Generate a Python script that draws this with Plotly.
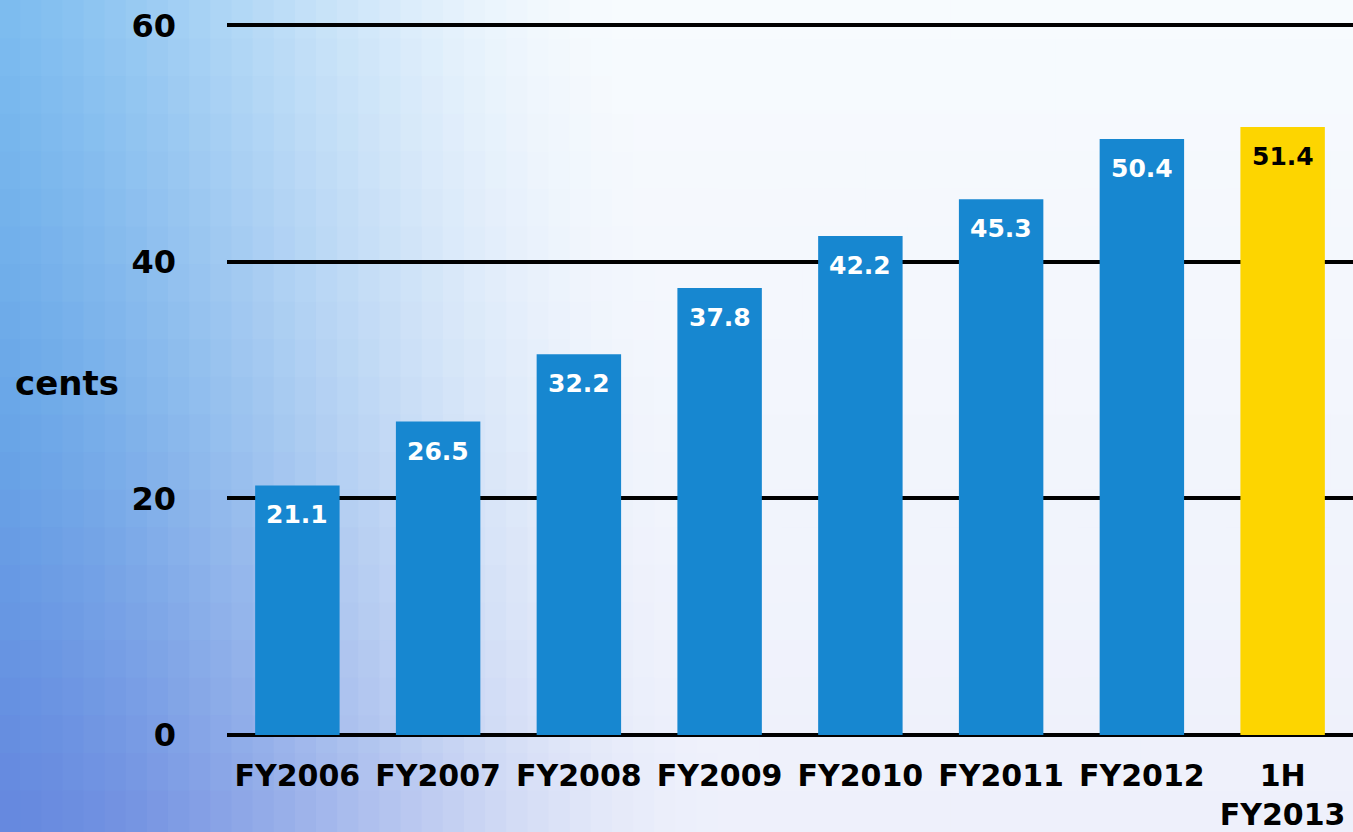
import plotly.graph_objects as go

# Dividend per share, cents
categories = ["FY2006", "FY2007", "FY2008", "FY2009", "FY2010", "FY2011", "FY2012", "1H<br>FY2013"]
values = [21.1, 26.5, 32.2, 37.8, 42.2, 45.3, 50.4, 51.4]
bar_colors = ["#1787d0"] * 7 + ["#fdd500"]
label_colors = ["white"] * 7 + ["black"]
y_ticks = [0, 20, 40, 60]

W, H = 1353, 832
M_L, M_R, M_T, M_B = 227, 0, 23, 93
PW, PH = W - M_L - M_R, H - M_T - M_B
FONT = "DejaVu Sans"


def mix(a, b, t):
    return tuple(a[k] + (b[k] - a[k]) * t for k in range(3))


def smooth(t):
    t = max(0.0, min(1.0, t))
    return t * t * (3 - 2 * t)


def to_paper_x(fx):
    return (fx * W - M_L) / PW


def to_paper_y(fy):
    return (fy * H - M_B) / PH


# Soft blue-to-white backdrop over the whole figure, built from small tiles
shapes = []
cols, rows = 64, 22
left_top, left_mid, left_bot = (112, 182, 238), (98, 162, 230), (100, 134, 222)
right_top, right_bot = (247, 251, 254), (238, 240, 251)
for i in range(cols):
    for j in range(rows):
        fx0, fx1 = i / cols, (i + 1) / cols
        fy0, fy1 = j / rows, (j + 1) / rows
        xc, yc = (fx0 + fx1) / 2, (fy0 + fy1) / 2
        if yc > 0.5:
            left = mix(left_mid, left_top, (yc - 0.5) * 2)
        else:
            left = mix(left_bot, left_mid, yc * 2)
        right = mix(right_bot, right_top, yc)
        w = smooth((xc + 0.08 * yc + 0.03) / 0.58)
        c = mix(left, right, w)
        # outer tiles run past the figure edge so no seam shows
        ex0 = -0.01 if i == 0 else fx0
        ex1 = 1.01 if i == cols - 1 else fx1
        ey0 = -0.01 if j == 0 else fy0
        ey1 = 1.01 if j == rows - 1 else fy1
        shapes.append(dict(
            type="rect", xref="paper", yref="paper", layer="below",
            x0=to_paper_x(ex0) - 0.001, x1=to_paper_x(ex1) + 0.001,
            y0=to_paper_y(ey0) - 0.001, y1=to_paper_y(ey1) + 0.001,
            line=dict(width=0),
            fillcolor="rgb(%d,%d,%d)" % tuple(int(round(v)) for v in c),
        ))

fig = go.Figure(go.Bar(
    x=categories,
    y=values,
    marker=dict(color=bar_colors, line=dict(width=0)),
    width=0.6,
    hoverinfo="x+y",
))

# Value labels sit just inside the top of each bar
annotations = [
    dict(x=cat, y=val, xref="x", yref="y", text=f"{val:.1f}",
         showarrow=False, yanchor="top", yshift=-13,
         font=dict(family=FONT, size=25, color=col, weight="bold"))
    for cat, val, col in zip(categories, values, label_colors)
]
annotations.append(dict(
    text="cents", xref="paper", yref="paper", x=to_paper_x(13 / W), y=to_paper_y((H - 385) / H),
    xanchor="left", yanchor="middle", showarrow=False,
    font=dict(family=FONT, size=34, color="black", weight="bold"),
))

fig.update_layout(
    width=W, height=H,
    margin=dict(l=M_L, r=M_R, t=M_T, b=M_B),
    paper_bgcolor="rgba(0,0,0,0)",
    plot_bgcolor="rgba(0,0,0,0)",
    shapes=shapes,
    showlegend=False,
    bargap=0.4,
    xaxis=dict(
        showgrid=False, showline=False, zeroline=False, ticks="",
        tickfont=dict(family=FONT, size=30, color="black", weight="bold"),
        ticklabelstandoff=20,
    ),
    yaxis=dict(
        range=[0, 60.2], tickvals=y_ticks,
        showgrid=True, gridcolor="black", gridwidth=4,
        zeroline=True, zerolinecolor="black", zerolinewidth=4,
        showline=False, ticks="",
        tickfont=dict(family=FONT, size=32, color="black", weight="bold"),
        ticklabelstandoff=50,
    ),
    annotations=annotations,
)

fig.write_html("out.html")
